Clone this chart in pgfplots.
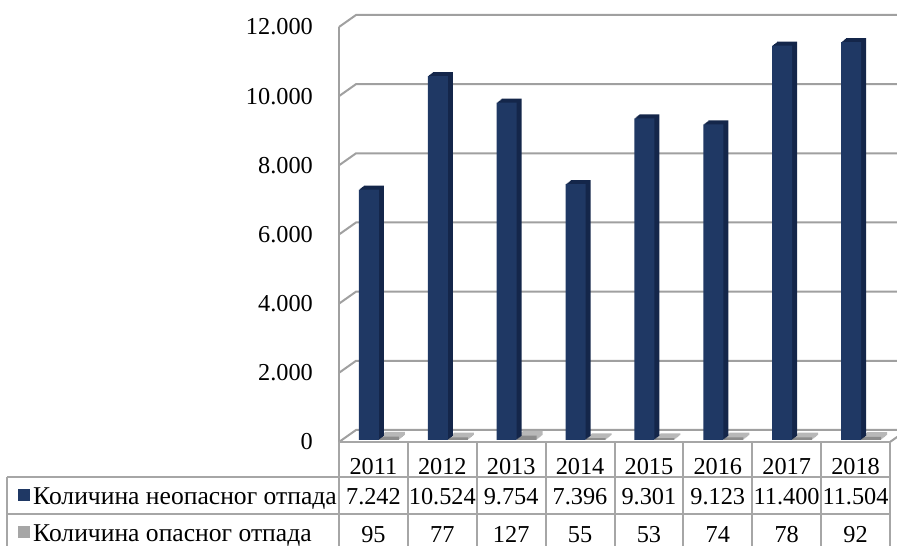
\documentclass[border=0pt]{standalone}
\usepackage{pgfplots}
\pgfplotsset{compat=1.18}
\usepackage{pgfplotstable}
\usepackage{fontspec}
\setmainfont{Liberation Serif}
\definecolor{navy}{HTML}{1F3864}
\definecolor{navyside}{HTML}{14264A}
\definecolor{greyfront}{HTML}{8C8C8C}
\definecolor{greytop}{HTML}{B8B8B8}
\definecolor{greykey}{HTML}{A6A6A6}
\definecolor{gridc}{HTML}{A0A0A0}
\definecolor{tabc}{HTML}{A6A6A6}
\newcommand\tf{\fontsize{24.3pt}{28pt}\selectfont}
\newcommand\lf{\fontsize{25.6pt}{30pt}\selectfont}
\pgfplotstableread{
x y
0 7242
1 10524
2 9754
3 7396
4 9301
5 9123
6 11400
7 11504
}\nonhaz
\pgfplotstableread{
x y
0 95
1 77
2 127
3 55
4 53
5 74
6 78
7 92
}\haz
\begin{document}
\begin{tikzpicture}[x=1pt,y=1pt]
\useasboundingbox (0,0) rectangle (897,546);
\clip (0,0) rectangle (897,546);
\begin{axis}[at={(339pt,104pt)}, anchor=south west, scale only axis,
  width=551pt, height=415pt, xmin=-0.5, xmax=7.5, ymin=0, ymax=12000,
  hide axis, clip=false]
% back wall grid with perspective offsets
\pgfplotsinvokeforeach{0,2000,4000,6000,8000,10000,12000}{
  \draw[gridc, line width=2pt] (axis cs:-0.5,#1) -- ++(17pt,12pt) -- ++(600pt,0pt);
}
\draw[gridc, line width=2pt] (axis cs:-0.5,0) -- (axis cs:-0.5,12000);
\draw[gridc, line width=2pt] (axis cs:7.5,0) -- ++(17pt,12pt);
% hazardous waste (flat slabs)
\pgfplotsinvokeforeach{1,2,3,4,5,6}{
  \addplot[ybar, bar width=20pt, bar shift=13.5pt, fill=greytop, draw=none,
    xshift={2pt+#1pt}, yshift={2pt+0.8*#1pt}] table {\haz};
}
\addplot[ybar, bar width=20pt, bar shift=13.5pt, fill=greyfront, draw=none,
  xshift=2pt, yshift=2pt] table {\haz};
% non-hazardous waste (3D columns)
\pgfplotsinvokeforeach{1,2,3,4,5}{
  \addplot[ybar, bar width=20pt, bar shift=-6.5pt, fill=navyside, draw=none,
    xshift={2pt+#1pt}, yshift={2pt+0.8*#1pt}] table {\nonhaz};
}
\addplot[ybar, bar width=20pt, bar shift=-6.5pt, fill=navy, draw=none,
  xshift=2pt, yshift=2pt] table {\nonhaz};
% y tick labels
\foreach \v/\t in {0/0,2000/2.000,4000/4.000,6000/6.000,8000/8.000,10000/10.000,12000/12.000}{
  \edef\temp{\noexpand\node[anchor=east, inner sep=0pt, font=\noexpand\tf] at (axis cs:-0.5,\v) [xshift=-26pt] {\t};}
  \temp
}
% table texts
\foreach \i/\yr/\a/\b in {0/2011/7.242/95,1/2012/10.524/77,2/2013/9.754/127,3/2014/7.396/55,4/2015/9.301/53,5/2016/9.123/74,6/2017/11.400/78,7/2018/11.504/92}{
  \edef\temp{\noexpand\node[anchor=base, inner sep=0pt, font=\noexpand\tf] at (axis cs:\i,0) [yshift=-33pt] {\yr};
  \noexpand\node[anchor=base, inner sep=0pt, font=\noexpand\tf] at (axis cs:\i,0) [yshift=-63pt] {\a};
  \noexpand\node[anchor=base, inner sep=0pt, font=\noexpand\tf] at (axis cs:\i,0) [yshift=-100pt] {\b};}
  \temp
}
\end{axis}
% data table grid
\begin{scope}[tabc, line width=2pt]
\draw (339,104) -- (890,104);
\draw (7,69) -- (890,69);
\draw (7,32) -- (890,32);
\foreach \k in {0,...,8}{ \draw ({339+68.875*\k},104) -- ({339+68.875*\k},-5); }
\draw (7,69) -- (7,-5);
\end{scope}
% legend keys and row labels
\fill[navy] (18,45) rectangle (30,57);
\fill[greykey] (18,8) rectangle (30,20);
\node[anchor=base west, inner sep=0pt, font=\lf] at (33,41) {Количина неопасног отпада};
\node[anchor=base west, inner sep=0pt, font=\lf] at (33,4) {Количина опасног отпада};
\end{tikzpicture}
\end{document}
